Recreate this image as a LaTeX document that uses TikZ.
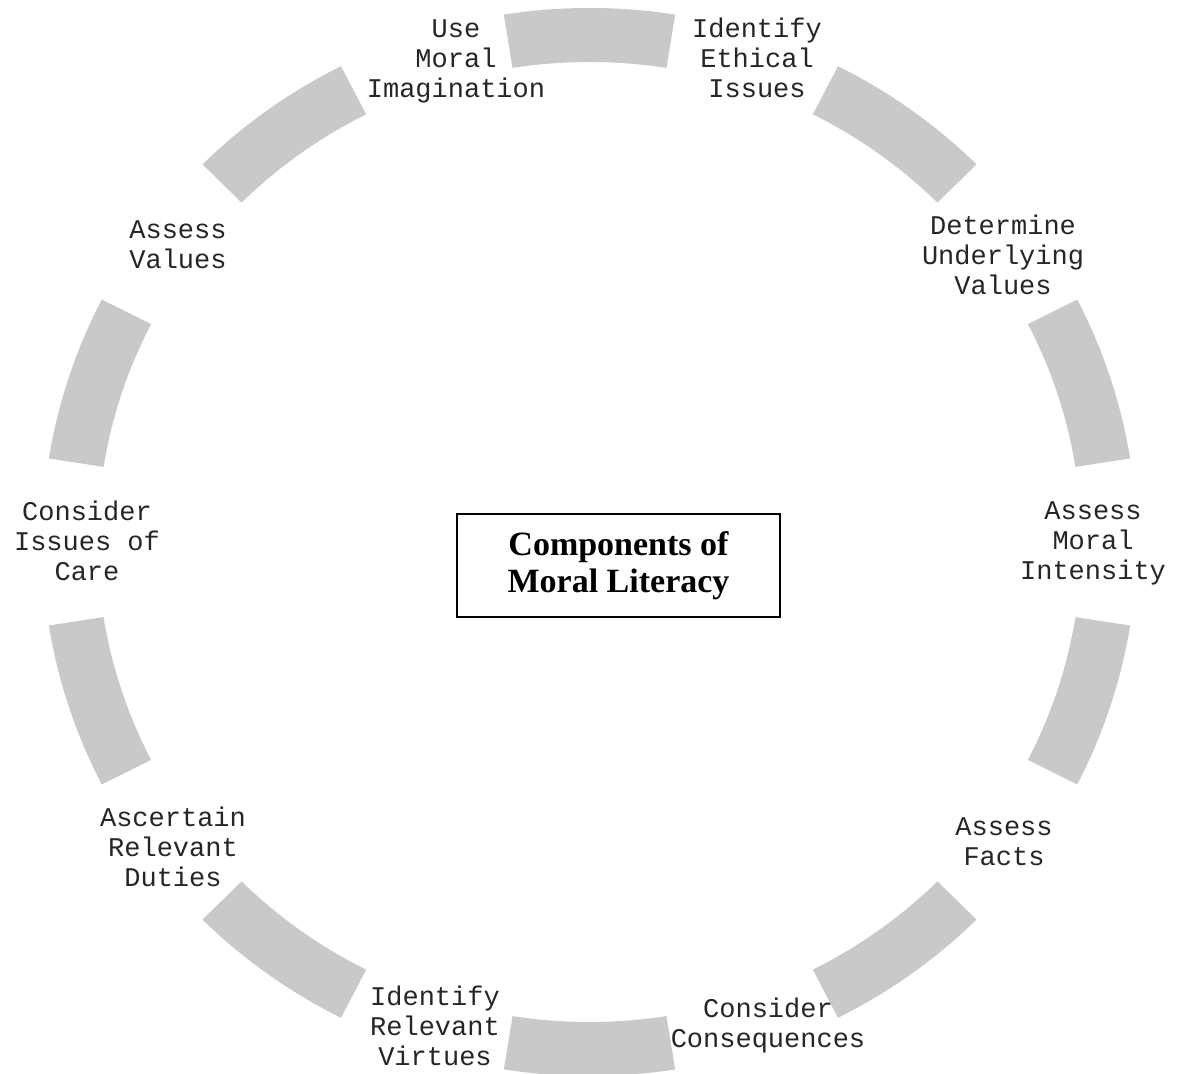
\documentclass[tikz,border=0pt]{standalone}
\usepackage{fontspec}
\setmainfont{Liberation Serif}
\newfontfamily\labelfont{Liberation Mono}
\definecolor{ringgray}{RGB}{201,201,201}
\begin{document}
\begin{tikzpicture}[x=1pt,y=1pt,
  lbl/.style={font=\labelfont\fontsize{27}{30}\selectfont, align=center, inner sep=0pt, text=black!85},
  titlebox/.style={draw, line width=2.2pt, minimum width=323pt, minimum height=103pt,
    font=\bfseries\fontsize{34}{37}\selectfont, align=center, inner sep=0pt}]
\useasboundingbox (0,0) rectangle (1185,1073);
\fill[white] (0,0) rectangle (1185,1073);
% ring of ten grey segments, each 18 degrees wide
\begin{scope}[shift={(589.5,531)}, xscale=1.025]
  \foreach \k in {0,...,9} {
    \pgfmathsetmacro\a{90+36*\k}
    \pgfmathsetmacro\s{\a-9}
    \pgfmathsetmacro\e{\a+9}
    \fill[ringgray] (\s:534) arc[start angle=\s, end angle=\e, radius=534]
      -- (\e:480) arc[start angle=\e, end angle=\s, radius=480] -- cycle;
  }
\end{scope}
% central title
\node[titlebox] (title) at (618.5,507.5) {Components of\\Moral Literacy};
% component labels around the ring
\node[lbl] (imagination) at (456,1012) {Use\\Moral\\Imagination};
\node[lbl] (ethical) at (757,1015) {Identify\\Ethical\\Issues};
\node[lbl] (underlying) at (1003,818) {Determine\\Underlying\\Values};
\node[lbl] (intensity) at (1093,530) {Assess\\Moral\\Intensity};
\node[lbl] (facts) at (1004,231) {Assess\\Facts};
\node[lbl] (consequences) at (768,47) {Consider\\Consequences};
\node[lbl] (virtues) at (435,47) {Identify\\Relevant\\Virtues};
\node[lbl] (duties) at (173,226) {Ascertain\\Relevant\\Duties};
\node[lbl] (care) at (87,532) {Consider\\Issues of\\Care};
\node[lbl] (values) at (178,828) {Assess\\Values};
\end{tikzpicture}
\end{document}
